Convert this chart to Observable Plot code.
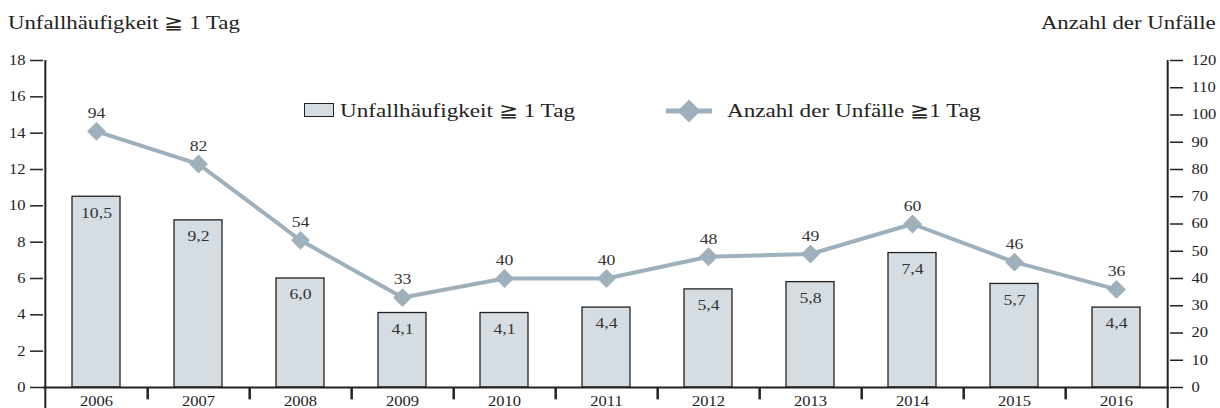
<!DOCTYPE html>
<html><head><meta charset="utf-8">
<script src="https://cdn.jsdelivr.net/npm/d3@7"></script>
<script src="https://cdn.jsdelivr.net/npm/@observablehq/plot@0.6"></script>
<style>
body{margin:0;background:#fff;font-family:"Liberation Serif","Times New Roman",serif;color:#222}
#wrap{position:relative;width:1220px;height:408px;overflow:hidden}
.t{position:absolute;white-space:nowrap;font-family:"Liberation Serif","Times New Roman",serif;color:#222;line-height:1}
</style></head>
<body><div id="wrap"></div>
<script>
const years = ["2006","2007","2008","2009","2010","2011","2012","2013","2014","2015","2016"];
const frequency = [10.5, 9.2, 6.0, 4.1, 4.1, 4.4, 5.4, 5.8, 7.4, 5.7, 4.4];
const accidents = [94, 82, 54, 33, 40, 40, 48, 49, 60, 46, 36];
const leftTicks = [0,2,4,6,8,10,12,14,16,18];
const rightTicks = [0,10,20,30,40,50,60,70,80,90,100,110,120];
const titleLeft = "Unfallhäufigkeit ≧ 1 Tag";
const titleRight = "Anzahl der Unfälle";
const legendBar = "Unfallhäufigkeit ≧ 1 Tag";
const legendLine = "Anzahl der Unfälle ≧1 Tag";

const W = 1220, H = 408, ML = 43, MR = 51, MT = 60, MB = 21;
const step = (W - ML - MR) / years.length;
const k = 18 / 120;
const lineColor = "#9fb0bd";
const barFill = "#d5dde3";
const stretch = 1.18;
const fmt = d => d.toFixed(1).replace(".", ",");
const data = years.map((y, i) => ({year: y, f: frequency[i], n: accidents[i], ny: accidents[i] * k}));

const chart = Plot.plot({
  width: W, height: H,
  marginLeft: ML, marginRight: MR, marginTop: MT, marginBottom: MB,
  style: {fontFamily: "'Liberation Serif','Times New Roman',serif", fontSize: "14px", color: "#222", background: "#fff", overflow: "visible"},
  x: {domain: years, paddingInner: 0.53, paddingOuter: 0.265, label: null},
  y: {domain: [0, 18], label: null},
  marks: [
    Plot.barY(data, {x: "year", y: "f", fill: barFill, stroke: "#222", strokeWidth: 1.3}),
    Plot.text(data, {x: "year", y: "f", text: d => fmt(d.f), dy: 16, fill: "#333", fontSize: 15}),
    Plot.line(data, {x: "year", y: "ny", stroke: lineColor, strokeWidth: 4}),
    Plot.dot(data, {x: "year", y: "ny", symbol: "diamond2", r: 8.5, fill: lineColor, stroke: "none"}),
    Plot.text(data, {x: "year", y: "ny", text: d => String(d.n), dy: -18, fill: "#333", fontSize: 15}),
    Plot.axisY({anchor: "left", ticks: leftTicks, tickSize: 13, tickPadding: 5, strokeWidth: 1.5, fontSize: 14, label: null}),
    Plot.axisY({anchor: "right", ticks: rightTicks.map(v => v * k), tickFormat: v => String(Math.round(v / k)), tickSize: 13, tickPadding: 9, strokeWidth: 1.5, fontSize: 14, label: null}),
    Plot.axisX({tickSize: 0, tickPadding: 9, fontSize: 14, label: null}),
    Plot.ruleY([0], {stroke: "#222", strokeWidth: 2}),
    Plot.ruleX(years.slice(0, -1), {x: d => d, dx: step / 2, y1: 0, y2: -0.68, stroke: "#222", strokeWidth: 2.5}),
    Plot.ruleX([years[0]], {dx: -step / 2, y1: -1.3, y2: 18, stroke: "#222", strokeWidth: 2}),
    Plot.ruleX([years[years.length - 1]], {dx: step / 2, y1: -1.3, y2: 18, stroke: "#222", strokeWidth: 2})
  ]
});
// emulate the horizontally wide lettering of the original
d3.select(chart).selectAll("text").each(function() {
  const t = this.getAttribute("transform");
  if (t) this.setAttribute("transform", t + ` scale(${stretch},1)`);
});
const wrap = document.getElementById("wrap");
wrap.appendChild(chart);

function addText(txt, css, origin) {
  const d = document.createElement("div");
  d.className = "t"; d.textContent = txt; Object.assign(d.style, css);
  d.style.transform = "scaleX(1.2)";
  d.style.transformOrigin = origin || "left top";
  wrap.appendChild(d);
  return d;
}
addText(titleLeft, {left: "8px", top: "13px", fontSize: "19px"});
addText(titleRight, {right: "4px", top: "13px", fontSize: "19px"}, "right top");
// legend
const box = document.createElement("div");
Object.assign(box.style, {position: "absolute", left: "304px", top: "103px", width: "28px", height: "12px", background: barFill, border: "1px solid #222"});
wrap.appendChild(box);
addText(legendBar, {left: "340px", top: "101px", fontSize: "19.3px"});
const ls = d3.create("svg").attr("width", 52).attr("height", 28).style("position", "absolute").style("left", "663px").style("top", "97px");
ls.append("line").attr("x1", 3).attr("x2", 49).attr("y1", 14).attr("y2", 14).attr("stroke", lineColor).attr("stroke-width", 5);
ls.append("path").attr("d", d3.symbol(d3.symbolDiamond2, 340)()).attr("transform", "translate(26,14)").attr("fill", lineColor);
wrap.appendChild(ls.node());
addText(legendLine, {left: "727px", top: "101px", fontSize: "19.3px"});
</script></body></html>
